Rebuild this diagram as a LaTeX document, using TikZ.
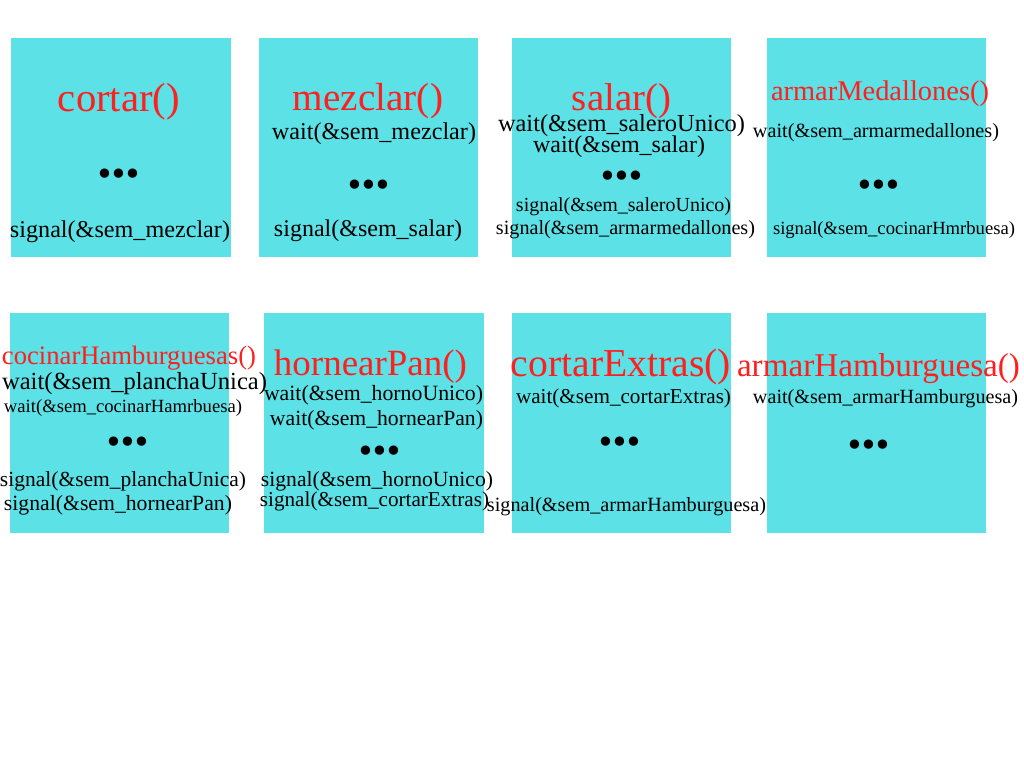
\documentclass[tikz,border=0pt]{standalone}
\usepackage{fontspec}
\setmainfont{Liberation Serif}
\newfontfamily\dotfont{DejaVu Sans}
\usepackage{graphicx}
\definecolor{boxcyan}{HTML}{5CE1E6}
\definecolor{fnred}{HTML}{FF1F1F}
\newlength\pxu
\setlength\pxu{0.75pt}
\newcommand{\fw}[2]{\resizebox{#1\pxu}{!}{#2}}
\newcommand{\tdots}[1]{\resizebox{#1\pxu}{!}{\dotfont •\kern-0.15em•\kern-0.15em•}}
\tikzset{
  box/.style={fill=boxcyan, draw=none, inner sep=0pt},
  txt/.style={inner sep=0pt, anchor=center, text=black, yshift=-3.5\pxu},
  fn/.style={inner sep=0pt, anchor=center, text=fnred, yshift=-3.5\pxu},
  dotrow/.style={inner sep=0pt, anchor=base, text=black, yshift=-14\pxu},
}
\begin{document}
\begin{tikzpicture}[x=0.75pt, y=-0.75pt]
\useasboundingbox (0,0) rectangle (1024,768);
% boxes
\node[box, minimum width=220\pxu, minimum height=219\pxu] (b1) at (121,147.5) {};
\node[box, minimum width=219\pxu, minimum height=219\pxu] (b2) at (368.5,147.5) {};
\node[box, minimum width=219\pxu, minimum height=219\pxu] (b3) at (621.5,147.5) {};
\node[box, minimum width=219\pxu, minimum height=219\pxu] (b4) at (876.5,147.5) {};
\node[box, minimum width=219\pxu, minimum height=220\pxu] (b5) at (119.5,423) {};
\node[box, minimum width=220\pxu, minimum height=220\pxu] (b6) at (374,423) {};
\node[box, minimum width=219\pxu, minimum height=220\pxu] (b7) at (621.5,423) {};
\node[box, minimum width=219\pxu, minimum height=220\pxu] (b8) at (876.5,423) {};
% box 1
\node[fn] (t1) at (119,98) {\fw{122}{cortar()}};
\node[dotrow] (d1) at (119,171) {\tdots{47}};
\node[txt] (s1) at (120,228) {\fw{220}{signal(\&sem\_mezclar)}};
% box 2
\node[fn] (t2) at (368,98) {\fw{150}{mezclar()}};
\node[txt] (w2) at (374,130) {\fw{204}{wait(\&sem\_mezclar)}};
\node[dotrow] (d2) at (369,182) {\tdots{47}};
\node[txt] (s2) at (368,227) {\fw{188}{signal(\&sem\_salar)}};
% box 3
\node[fn] (t3) at (621.5,98) {\fw{99}{salar()}};
\node[txt] (w3a) at (621.5,122) {\fw{247}{wait(\&sem\_saleroUnico)}};
\node[txt] (w3b) at (619,143) {\fw{172}{wait(\&sem\_salar)}};
\node[dotrow] (d3) at (621.5,173) {\tdots{47}};
\node[txt] (s3a) at (623.5,203) {\fw{215}{signal(\&sem\_saleroUnico)}};
\node[txt] (s3b) at (625.5,226) {\fw{259}{signal(\&sem\_armarmedallones)}};
% box 4
\node[fn] (t4) at (880,90) {\fw{218}{armarMedallones()}};
\node[txt] (w4) at (876,129) {\fw{246}{wait(\&sem\_armarmedallones)}};
\node[dotrow] (d4) at (879,182) {\tdots{47}};
\node[txt] (s4) at (894,227) {\fw{242}{signal(\&sem\_cocinarHmrbuesa)}};
% box 5
\node[fn] (t5) at (129,355) {\fw{254}{cocinarHamburguesas()}};
\node[txt] (w5a) at (134.5,380) {\fw{265}{wait(\&sem\_planchaUnica)}};
\node[txt] (w5b) at (123,405) {\fw{238}{wait(\&sem\_cocinarHamrbuesa)}};
\node[dotrow] (d5) at (127.5,439) {\tdots{47}};
\node[txt] (s5a) at (123,478) {\fw{246}{signal(\&sem\_planchaUnica)}};
\node[txt] (s5b) at (118,502) {\fw{228}{signal(\&sem\_hornearPan)}};
% box 6
\node[fn] (t6) at (370.5,363) {\fw{193}{hornearPan()}};
\node[txt] (w6a) at (373.5,392) {\fw{219}{wait(\&sem\_hornoUnico)}};
\node[txt] (w6b) at (376.5,417) {\fw{213}{wait(\&sem\_hornearPan)}};
\node[dotrow] (d6) at (379.5,448) {\tdots{47}};
\node[txt] (s6a) at (377,478) {\fw{232}{signal(\&sem\_hornoUnico)}};
\node[txt] (s6b) at (374.5,498) {\fw{229}{signal(\&sem\_cortarExtras)}};
% box 7
\node[fn] (t7) at (621,363) {\fw{220}{cortarExtras()}};
\node[txt] (w7) at (623.5,395) {\fw{215}{wait(\&sem\_cortarExtras)}};
\node[dotrow] (d7) at (620,439) {\tdots{47}};
\node[txt] (s7) at (626.5,503) {\fw{279}{signal(\&sem\_armarHamburguesa)}};
% box 8
\node[fn] (t8) at (878.5,365) {\fw{283}{armarHamburguesa()}};
\node[txt] (w8) at (885.5,395) {\fw{265}{wait(\&sem\_armarHamburguesa)}};
\node[dotrow] (d8) at (868.5,442) {\tdots{47}};
\end{tikzpicture}
\end{document}
